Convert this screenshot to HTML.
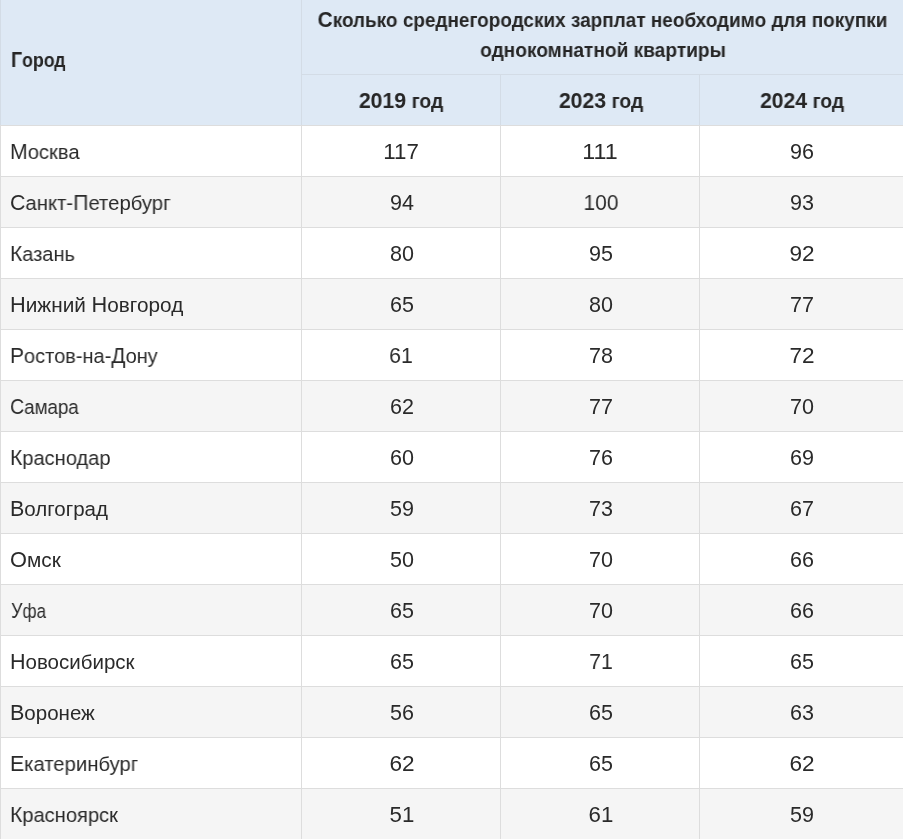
<!DOCTYPE html><html><head><meta charset="utf-8"><style>
html,body{margin:0;padding:0;background:#fff;width:903px;height:839px;overflow:hidden;position:relative}
.t{position:absolute;white-space:nowrap;line-height:24px;font-family:"Liberation Sans",sans-serif;transform-origin:0 0;will-change:transform}
.tn{font-size:20.5px;color:#2a2a2a}
.tb{font-size:20px;font-weight:700;-webkit-text-stroke:0px #262626;color:#262626}
.c{width:600px;text-align:center;transform-origin:50% 0}
.tn .u{font-size:21.5px;line-height:0}
.tb .u{font-size:22px;line-height:0}
.b{position:absolute}
</style></head><body>
<div class="b" style="left:0;top:0;width:903px;height:125px;background:#dee9f5"></div>
<div class="b" style="left:0;top:177px;width:903px;height:50px;background:#f5f5f5"></div>
<div class="b" style="left:0;top:279px;width:903px;height:50px;background:#f5f5f5"></div>
<div class="b" style="left:0;top:381px;width:903px;height:50px;background:#f5f5f5"></div>
<div class="b" style="left:0;top:483px;width:903px;height:50px;background:#f5f5f5"></div>
<div class="b" style="left:0;top:585px;width:903px;height:50px;background:#f5f5f5"></div>
<div class="b" style="left:0;top:687px;width:903px;height:50px;background:#f5f5f5"></div>
<div class="b" style="left:0;top:789px;width:903px;height:50px;background:#f5f5f5"></div>
<div class="b" style="left:301px;top:74px;width:602px;height:1px;background:#d3dce6"></div>
<div class="b" style="left:0;top:125px;width:903px;height:1px;background:#dddddd"></div>
<div class="b" style="left:0;top:176px;width:903px;height:1px;background:#dddddd"></div>
<div class="b" style="left:0;top:227px;width:903px;height:1px;background:#dddddd"></div>
<div class="b" style="left:0;top:278px;width:903px;height:1px;background:#dddddd"></div>
<div class="b" style="left:0;top:329px;width:903px;height:1px;background:#dddddd"></div>
<div class="b" style="left:0;top:380px;width:903px;height:1px;background:#dddddd"></div>
<div class="b" style="left:0;top:431px;width:903px;height:1px;background:#dddddd"></div>
<div class="b" style="left:0;top:482px;width:903px;height:1px;background:#dddddd"></div>
<div class="b" style="left:0;top:533px;width:903px;height:1px;background:#dddddd"></div>
<div class="b" style="left:0;top:584px;width:903px;height:1px;background:#dddddd"></div>
<div class="b" style="left:0;top:635px;width:903px;height:1px;background:#dddddd"></div>
<div class="b" style="left:0;top:686px;width:903px;height:1px;background:#dddddd"></div>
<div class="b" style="left:0;top:737px;width:903px;height:1px;background:#dddddd"></div>
<div class="b" style="left:0;top:788px;width:903px;height:1px;background:#dddddd"></div>
<div class="b" style="left:0;top:0;width:1px;height:125px;background:#d3dce6"></div>
<div class="b" style="left:301px;top:0;width:1px;height:125px;background:#d3dce6"></div>
<div class="b" style="left:500px;top:75px;width:1px;height:50px;background:#d3dce6"></div>
<div class="b" style="left:699px;top:75px;width:1px;height:50px;background:#d3dce6"></div>
<div class="b" style="left:0px;top:126px;width:1px;height:713px;background:#dddddd"></div>
<div class="b" style="left:301px;top:126px;width:1px;height:713px;background:#dddddd"></div>
<div class="b" style="left:500px;top:126px;width:1px;height:713px;background:#dddddd"></div>
<div class="b" style="left:699px;top:126px;width:1px;height:713px;background:#dddddd"></div>
<div class="t tb" style="left:11.12px;top:48px;transform:scaleX(0.886)"><span class="u">Г</span>ород</div>
<div class="t tb c" style="left:302.02px;top:8px;transform:scaleX(0.948)"><span class="u">С</span>колько среднегородских зарплат необходимо для покупки</div>
<div class="t tb c" style="left:302.55px;top:37.5px;transform:scaleX(0.956)">однокомнатной квартиры</div>
<div class="t tb c" style="left:101.49px;top:89px;transform:scaleX(0.967)"><span class="u">2019</span> год</div>
<div class="t tb c" style="left:300.96px;top:89px;transform:scaleX(0.966)"><span class="u">2023</span> год</div>
<div class="t tb c" style="left:501.66px;top:89px;transform:scaleX(0.963)"><span class="u">2024</span> год</div>
<div class="t tn" style="left:10.03px;top:140px;transform:scaleX(0.986)"><span class="u">М</span>осква</div>
<div class="t tn c" style="left:101.16px;top:140px;transform:scaleX(1.038)"><span class="u">117</span></div>
<div class="t tn c" style="left:300.03px;top:140px;transform:scaleX(1.082)"><span class="u">111</span></div>
<div class="t tn c" style="left:501.73px;top:140px;transform:scaleX(1.002)"><span class="u">96</span></div>
<div class="t tn" style="left:10.37px;top:191px;transform:scaleX(0.991)"><span class="u">С</span>анкт-<span class="u">П</span>етербург</div>
<div class="t tn c" style="left:102.11px;top:191px;transform:scaleX(1.002)"><span class="u">94</span></div>
<div class="t tn c" style="left:300.5px;top:191px;transform:scaleX(0.972)"><span class="u">100</span></div>
<div class="t tn c" style="left:501.73px;top:191px;transform:scaleX(1.002)"><span class="u">93</span></div>
<div class="t tn" style="left:10.05px;top:242px;transform:scaleX(0.977)"><span class="u">К</span>азань</div>
<div class="t tn c" style="left:102.11px;top:242px;transform:scaleX(1.002)"><span class="u">80</span></div>
<div class="t tn c" style="left:300.52px;top:242px;transform:scaleX(1.002)"><span class="u">95</span></div>
<div class="t tn c" style="left:502.22px;top:242px;transform:scaleX(1.05)"><span class="u">92</span></div>
<div class="t tn" style="left:9.97px;top:293px;transform:scaleX(1.012)"><span class="u">Н</span>ижний <span class="u">Н</span>овгород</div>
<div class="t tn c" style="left:102.11px;top:293px;transform:scaleX(1.002)"><span class="u">65</span></div>
<div class="t tn c" style="left:300.52px;top:293px;transform:scaleX(1.002)"><span class="u">80</span></div>
<div class="t tn c" style="left:501.73px;top:293px;transform:scaleX(1.002)"><span class="u">77</span></div>
<div class="t tn" style="left:10.05px;top:344px;transform:scaleX(0.976)"><span class="u">Р</span>остов-на-<span class="u">Д</span>ону</div>
<div class="t tn c" style="left:101.13px;top:344px;transform:scaleX(0.986)"><span class="u">61</span></div>
<div class="t tn c" style="left:300.52px;top:344px;transform:scaleX(1.002)"><span class="u">78</span></div>
<div class="t tn c" style="left:502.22px;top:344px;transform:scaleX(1.05)"><span class="u">72</span></div>
<div class="t tn" style="left:10.42px;top:395px;transform:scaleX(0.913)"><span class="u">С</span>амара</div>
<div class="t tn c" style="left:102.11px;top:395px;transform:scaleX(1.002)"><span class="u">62</span></div>
<div class="t tn c" style="left:300.52px;top:395px;transform:scaleX(1.002)"><span class="u">77</span></div>
<div class="t tn c" style="left:501.73px;top:395px;transform:scaleX(1.002)"><span class="u">70</span></div>
<div class="t tn" style="left:10.04px;top:446px;transform:scaleX(0.98)"><span class="u">К</span>раснодар</div>
<div class="t tn c" style="left:102.11px;top:446px;transform:scaleX(1.002)"><span class="u">60</span></div>
<div class="t tn c" style="left:300.52px;top:446px;transform:scaleX(1.002)"><span class="u">76</span></div>
<div class="t tn c" style="left:501.73px;top:446px;transform:scaleX(1.002)"><span class="u">69</span></div>
<div class="t tn" style="left:10px;top:497px;transform:scaleX(1)"><span class="u">В</span>олгоград</div>
<div class="t tn c" style="left:102.11px;top:497px;transform:scaleX(1.002)"><span class="u">59</span></div>
<div class="t tn c" style="left:300.52px;top:497px;transform:scaleX(1.002)"><span class="u">73</span></div>
<div class="t tn c" style="left:501.73px;top:497px;transform:scaleX(1.002)"><span class="u">67</span></div>
<div class="t tn" style="left:10.35px;top:548px;transform:scaleX(1.014)"><span class="u">О</span>мск</div>
<div class="t tn c" style="left:102.11px;top:548px;transform:scaleX(1.002)"><span class="u">50</span></div>
<div class="t tn c" style="left:300.52px;top:548px;transform:scaleX(1.002)"><span class="u">70</span></div>
<div class="t tn c" style="left:501.73px;top:548px;transform:scaleX(1.002)"><span class="u">66</span></div>
<div class="t tn" style="left:10.59px;top:599px;transform:scaleX(0.837)"><span class="u">У</span>фа</div>
<div class="t tn c" style="left:102.11px;top:599px;transform:scaleX(1.002)"><span class="u">65</span></div>
<div class="t tn c" style="left:300.52px;top:599px;transform:scaleX(1.002)"><span class="u">70</span></div>
<div class="t tn c" style="left:501.73px;top:599px;transform:scaleX(1.002)"><span class="u">66</span></div>
<div class="t tn" style="left:10px;top:650px;transform:scaleX(1)"><span class="u">Н</span>овосибирск</div>
<div class="t tn c" style="left:102.11px;top:650px;transform:scaleX(1.002)"><span class="u">65</span></div>
<div class="t tn c" style="left:300.53px;top:650px;transform:scaleX(0.986)"><span class="u">71</span></div>
<div class="t tn c" style="left:501.73px;top:650px;transform:scaleX(1.002)"><span class="u">65</span></div>
<div class="t tn" style="left:10px;top:701px;transform:scaleX(1.001)"><span class="u">В</span>оронеж</div>
<div class="t tn c" style="left:102.11px;top:701px;transform:scaleX(1.002)"><span class="u">56</span></div>
<div class="t tn c" style="left:300.52px;top:701px;transform:scaleX(1.002)"><span class="u">65</span></div>
<div class="t tn c" style="left:501.73px;top:701px;transform:scaleX(1.002)"><span class="u">63</span></div>
<div class="t tn" style="left:10.03px;top:752px;transform:scaleX(0.988)"><span class="u">Е</span>катеринбург</div>
<div class="t tn c" style="left:101.61px;top:752px;transform:scaleX(1.05)"><span class="u">62</span></div>
<div class="t tn c" style="left:300.52px;top:752px;transform:scaleX(1.002)"><span class="u">65</span></div>
<div class="t tn c" style="left:502.22px;top:752px;transform:scaleX(1.05)"><span class="u">62</span></div>
<div class="t tn" style="left:10.04px;top:803px;transform:scaleX(0.981)"><span class="u">К</span>расноярск</div>
<div class="t tn c" style="left:101.57px;top:803px;transform:scaleX(1.035)"><span class="u">51</span></div>
<div class="t tn c" style="left:300.97px;top:803px;transform:scaleX(1.035)"><span class="u">61</span></div>
<div class="t tn c" style="left:501.73px;top:803px;transform:scaleX(1.002)"><span class="u">59</span></div>
</body></html>
